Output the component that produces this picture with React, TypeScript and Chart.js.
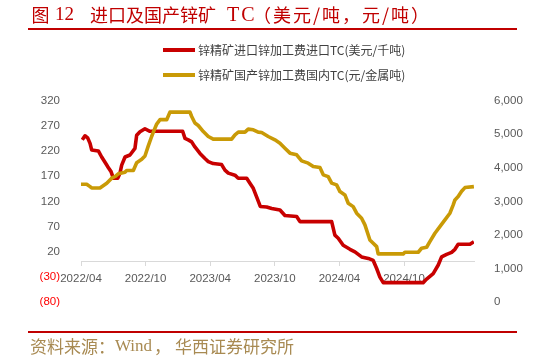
import React, { useEffect, useRef } from 'react';
import { Chart, registerables } from 'chart.js';

Chart.register(...registerables);

// x positions are months counted from 2022/04
const tickLabels = ['2022/04', '2022/10', '2023/04', '2023/10', '2024/04', '2024/10'];

const importMonths = [0.12, 0.37, 0.62, 0.84, 0.99, 1.61, 1.92, 2.39, 2.53, 2.79, 3.0, 3.41, 3.62, 3.78, 4.09, 4.55, 5.01, 5.17, 5.48, 5.94, 6.4, 9.44, 9.66, 9.96, 10.28, 10.58, 11.05, 11.51, 11.82, 12.28, 13.06, 13.37, 13.68, 14.3, 14.6, 15.39, 15.69, 16.0, 16.31, 16.65, 17.24, 17.71, 18.48, 18.94, 20.03, 20.33, 23.28, 23.58, 23.89, 24.35, 24.98, 25.44, 26.06, 26.68, 27.14, 27.46, 27.76, 28.07, 31.78, 32.1, 32.71, 33.18, 33.49, 33.96, 34.42, 34.73, 35.03, 36.12, 36.49];
const importTC = [242, 250, 246, 235, 222, 220, 208, 192, 187, 179, 166, 166, 176, 192, 208, 212, 225, 251, 258, 264, 259, 259, 245, 242, 238, 228, 215, 205, 199, 195, 193, 182, 176, 172, 166, 166, 156, 146, 129, 110, 109, 106, 103, 92, 90, 80, 80, 53, 47, 33, 25, 20, 10, 7, 3, -13, -30, -41, -41, -34, -23, -6, 10, 15, 19, 25, 35, 35, 40];

const domesticMonths = [0, 0.53, 0.84, 0.99, 1.76, 2.39, 2.85, 3.16, 3.46, 4.09, 4.24, 4.86, 5.17, 5.64, 5.94, 6.25, 6.56, 6.71, 7.03, 7.34, 7.96, 8.26, 10.12, 10.28, 10.58, 10.89, 11.36, 11.82, 12.28, 13.99, 14.3, 14.61, 15.23, 15.53, 16.0, 16.46, 16.78, 17.39, 18.01, 18.48, 18.94, 19.41, 20.03, 20.49, 21.1, 21.57, 22.19, 22.5, 22.96, 23.28, 23.74, 24.05, 24.51, 24.82, 25.28, 25.6, 26.06, 26.37, 26.83, 27.14, 27.46, 27.6, 29.93, 30.08, 31.32, 31.63, 32.1, 32.4, 32.87, 33.33, 33.8, 34.26, 34.57, 34.73, 35.03, 35.35, 35.66, 36.49];
const domesticTC = [3510, 3510, 3440, 3400, 3400, 3540, 3690, 3740, 3820, 3870, 3917, 3920, 4150, 4250, 4350, 4650, 4930, 5050, 5300, 5430, 5430, 5655, 5655, 5524, 5330, 5256, 5077, 4929, 4851, 4851, 4980, 5060, 5060, 5149, 5130, 5060, 5048, 4930, 4830, 4732, 4583, 4435, 4384, 4205, 4137, 4036, 4006, 3789, 3738, 3542, 3491, 3292, 3193, 2946, 2845, 2649, 2500, 2301, 1854, 1756, 1655, 1440, 1440, 1488, 1488, 1607, 1637, 1804, 2054, 2250, 2449, 2649, 2896, 3045, 3143, 3300, 3411, 3440];

const seriesNames = ['锌精矿进口锌加工费进口TC(美元/千吨)', '锌精矿国产锌加工费国内TC(元/金属吨)'];

const RED = '#c80000';
const GOLD = '#c99a06';
const TICK_FONT = { family: '"Liberation Sans", Arial, sans-serif', size: 11.5 };
const CJK = '"Noto Sans CJK SC", sans-serif';
const SERIF = '"Liberation Serif", "Noto Sans CJK SC", serif';

export default function App() {
  const canvasRef = useRef<HTMLCanvasElement>(null);

  useEffect(() => {
    const canvas = canvasRef.current;
    if (!canvas) return;
    const chart = new Chart(canvas, {
      type: 'line',
      data: {
        datasets: [
          {
            label: seriesNames[0],
            data: importMonths.map((m, i) => ({ x: m, y: importTC[i] })),
            borderColor: RED,
            backgroundColor: RED,
            borderWidth: 3.6,
            pointRadius: 0,
            tension: 0,
            borderJoinStyle: 'round',
            yAxisID: 'y',
            order: 1,
          },
          {
            label: seriesNames[1],
            data: domesticMonths.map((m, i) => ({ x: m, y: domesticTC[i] })),
            borderColor: GOLD,
            backgroundColor: GOLD,
            borderWidth: 3.6,
            pointRadius: 0,
            tension: 0,
            borderJoinStyle: 'round',
            yAxisID: 'y2',
            order: 0,
          },
        ],
      },
      options: {
        responsive: false,
        animation: false,
        layout: { padding: { top: 100.5, bottom: 57.7, left: 0, right: 0 } },
        plugins: {
          legend: { display: false },
          title: { display: false },
          tooltip: { enabled: false },
        },
        scales: {
          x: {
            type: 'linear',
            min: 0,
            max: 36.5,
            position: { y: 0 } as any,
            grid: { drawOnChartArea: false, drawTicks: true, tickLength: 4, color: '#d9d9d9' },
            border: { display: true, color: '#d9d9d9', width: 1 },
            ticks: {
              stepSize: 6,
              autoSkip: false,
              maxRotation: 0,
              padding: 6,
              color: '#595959',
              font: TICK_FONT,
              callback: (v: any) => tickLabels[Math.round(Number(v) / 6)] ?? '',
            },
            afterBuildTicks: (s: any) => {
              s.ticks = s.ticks.filter((t: any) => t.value % 6 === 0 && t.value <= 30);
            },
          },
          y: {
            position: 'left',
            min: -80,
            max: 320,
            grid: { display: false },
            border: { display: false },
            ticks: {
              stepSize: 50,
              padding: 13,
              font: TICK_FONT,
              color: (ctx: any) => (ctx.tick && ctx.tick.value < 0 ? '#ff0000' : '#595959'),
              callback: (v: any) => (Number(v) < 0 ? `(${-Number(v)})` : String(v)),
            },
            afterFit: (s: any) => {
              s.width = 81;
            },
          },
          y2: {
            position: 'right',
            min: 0,
            max: 6000,
            grid: { display: false },
            border: { display: false },
            ticks: {
              stepSize: 1000,
              padding: 12,
              font: TICK_FONT,
              color: '#595959',
              callback: (v: any) => Number(v).toLocaleString('en-US'),
            },
            afterFit: (s: any) => {
              s.width = 59;
            },
          },
        },
      },
    });
    return () => chart.destroy();
  }, []);

  const abs = (o: React.CSSProperties): React.CSSProperties => ({ position: 'absolute', whiteSpace: 'nowrap', margin: 0, ...o });

  return (
    <div style={{ position: 'fixed', left: 0, top: 0, width: 533, height: 360, background: '#ffffff', overflow: 'hidden' }}>
      <canvas ref={canvasRef} width={533} height={360} style={{ position: 'absolute', left: 0, top: 0, width: 533, height: 360 }} />
      {/* title */}
      <span style={abs({ left: 31.5, top: 3, fontFamily: CJK, fontSize: 18, lineHeight: '22px', color: '#c00000' })}>图</span>
      <span style={abs({ left: 55, top: 3, fontFamily: SERIF, fontSize: 19, lineHeight: '22px', color: '#c00000' })}>12</span>
      <span style={abs({ left: 90, top: 3, fontFamily: CJK, fontSize: 18, lineHeight: '22px', color: '#c00000' })}>进口及国产锌矿</span>
      <span style={abs({ left: 227, top: 3, fontFamily: SERIF, fontSize: 20, lineHeight: '22px', color: '#c00000', letterSpacing: 2 })}>TC</span>
      <span style={abs({ left: 253, top: 3, fontFamily: CJK, fontSize: 18, lineHeight: '22px', color: '#c00000', letterSpacing: 2 })}>（美元/吨，元/吨）</span>
      <div style={abs({ left: 28, top: 28, width: 489, height: 2, background: '#c00000' })} />
      {/* legend */}
      <div style={abs({ left: 163, top: 48.3, width: 32, height: 3.5, background: RED })} />
      <span style={abs({ left: 198, top: 42, fontFamily: CJK, fontSize: 12, lineHeight: '16px', color: '#404040' })}>{seriesNames[0]}</span>
      <div style={abs({ left: 163, top: 73.3, width: 32, height: 3.5, background: GOLD })} />
      <span style={abs({ left: 198, top: 67, fontFamily: CJK, fontSize: 12, lineHeight: '16px', color: '#404040' })}>{seriesNames[1]}</span>
      {/* source */}
      <div style={abs({ left: 28, top: 331, width: 489, height: 2, background: '#c00000' })} />
      <span style={abs({ left: 30, top: 335, fontFamily: CJK, fontSize: 17, lineHeight: '21px', color: '#a88a52' })}>资料来源：</span>
      <span style={abs({ left: 115, top: 335, fontFamily: SERIF, fontSize: 17, lineHeight: '21px', color: '#a88a52' })}>Wind</span>
      <span style={abs({ left: 154, top: 335, fontFamily: CJK, fontSize: 17, lineHeight: '21px', color: '#a88a52' })}>，</span>
      <span style={abs({ left: 175, top: 335, fontFamily: CJK, fontSize: 17, lineHeight: '21px', color: '#a88a52' })}>华西证券研究所</span>
    </div>
  );
}
